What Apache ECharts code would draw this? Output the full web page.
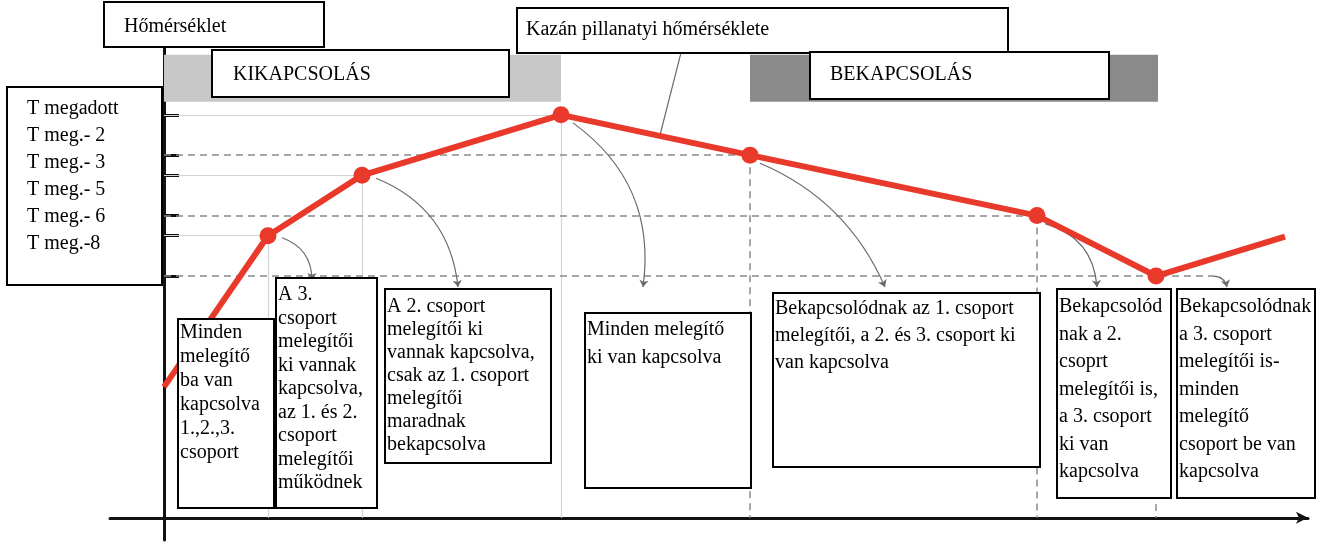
<!DOCTYPE html>
<html>
<head>
<meta charset="utf-8">
<script src="https://cdn.jsdelivr.net/npm/echarts@6/dist/echarts.min.js"></script>
<style>
  html, body { margin: 0; padding: 0; background: #fff; }
  #chart { width: 1322px; height: 542px; }
</style>
</head>
<body>
<div id="chart"></div>
<script>
// hőmérséklet-szintek (alapvonal = 0, T megadott = 20)
var levelNames = ['T megadott', 'T meg.- 2', 'T meg.- 3', 'T meg.- 5', 'T meg.- 6', 'T meg.-8'];
var levelValues = [20, 18, 17, 15, 14, 12];

// kazán pillanatnyi hőmérséklete (idő, hőmérséklet)
var timeX = [0, 10.4, 19.8, 39.7, 58.6, 87.3, 99.2, 112.1];
var tempY = [6.5, 14, 17, 20, 18, 15, 12, 13.95];

// állapotsávok
var offBand = [0, 39.7];
var onBand = [58.6, 99.4];

var FONT = '20px "Liberation Serif", "Times New Roman", serif';

var chart = echarts.init(document.getElementById('chart'));

// vetítő vonalak a pontokból a tengelyekig
var lightLines = [], dashLines = [];
for (var i = 1; i <= 6; i++) {
    var target = i <= 3 ? lightLines : dashLines;
    var hEnd = (i == 6) ? 104.9 : timeX[i];
    target.push({coords: [[0, tempY[i]], [hEnd, tempY[i]]]});
    target.push({coords: [[timeX[i], tempY[i]], [timeX[i], 0]]});
}

// nyilak a pontoktól a magyarázó dobozokig
var arrows = [
    {coords: [[11.8, 13.9], [14.8, 11.8]], lineStyle: {curveness: 0.35}},
    {coords: [[21.2, 16.85], [29.4, 11.45]], lineStyle: {curveness: 0.3}},
    {coords: [[40.9, 19.6], [47.9, 11.45]], lineStyle: {curveness: 0.3}},
    {coords: [[59.6, 17.6], [72.1, 11.45]], lineStyle: {curveness: 0.2}},
    {coords: [[88.1, 14.6], [93.3, 11.45]], lineStyle: {curveness: 0.35}},
    {coords: [[104.9, 12], [106.3, 11.45]], lineStyle: {curveness: 0.4}}
];

function box(x, y, w, h, lines, firstY, lh, tx) {
    var ch = [{
        type: 'rect', z: 100,
        shape: {x: x, y: y, width: w, height: h},
        style: {fill: '#fff', stroke: '#000', lineWidth: 2}
    }];
    for (var k = 0; k < lines.length; k++) {
        ch.push({
            type: 'text', z: 101,
            x: tx === undefined ? x + 2 : tx,
            y: firstY + k * lh,
            style: {text: lines[k], font: FONT, fill: '#000', verticalAlign: 'middle', textVerticalAlign: 'middle'}
        });
    }
    return {type: 'group', children: ch};
}

var seriesData = timeX.map(function (x, i) {
    var p = {value: [x, tempY[i]]};
    if (i == 0 || i == timeX.length - 1) p.symbol = 'none';
    return p;
});

var option = {
    animation: false,
    grid: {left: 110, right: 14, top: 44.3, bottom: 2, containLabel: false, outerBoundsMode: 'none'},
    xAxis: {
        type: 'value', min: -5.4, max: 114.4,
        splitLine: {show: false}, axisTick: {show: false}, axisLabel: {show: false},
        axisLine: {show: true, onZero: true, symbol: ['none', 'arrow'], symbolSize: [9, 12],
            lineStyle: {color: '#111', width: 3}}
    },
    yAxis: {
        type: 'value', min: -1.1, max: 23.5,
        splitLine: {show: false}, axisLabel: {show: false},
        axisLine: {show: true, onZero: true, lineStyle: {color: '#111', width: 3}},
        axisTick: {show: true, inside: true, length: 15, customValues: levelValues,
            lineStyle: {color: '#111', width: 3}}
    },
    series: [
        {
            type: 'line', data: [], silent: true,
            markArea: {
                silent: true,
                data: [
                    [{coord: [offBand[0], 20.65], itemStyle: {color: '#c8c8c8'}}, {coord: [offBand[1], 22.98]}],
                    [{coord: [onBand[0], 20.65], itemStyle: {color: '#8a8a8a'}}, {coord: [onBand[1], 22.98]}]
                ]
            }
        },
        {
            type: 'lines', coordinateSystem: 'cartesian2d', silent: true, z: 1,
            lineStyle: {color: '#d4d4d4', width: 1.2, opacity: 1},
            data: lightLines
        },
        {
            type: 'lines', coordinateSystem: 'cartesian2d', silent: true, z: 1,
            lineStyle: {color: '#8a8a8a', width: 1.5, type: [7, 5], opacity: 1},
            data: dashLines
        },
        {
            type: 'lines', coordinateSystem: 'cartesian2d', silent: true, z: 3,
            symbol: ['none', 'arrow'], symbolSize: 7,
            lineStyle: {color: '#6a6a6a', width: 1.2, opacity: 1},
            data: arrows
        },
        {
            type: 'lines', coordinateSystem: 'cartesian2d', silent: true, z: 3,
            lineStyle: {color: '#6a6a6a', width: 1.2, opacity: 1},
            data: [{coords: [[51.9, 23.47], [49.6, 19.0]]}]
        },
        {
            name: 'Kazán pillanatyi hőmérséklete',
            type: 'line', z: 5,
            data: seriesData,
            symbol: 'circle', symbolSize: 17,
            lineStyle: {color: '#e8392b', width: 6},
            itemStyle: {color: '#e8392b'}
        }
    ],
    graphic: [
        box(104, 2, 220, 45, ['Hőmérséklet'], 27, 0, 124),
        box(212, 50, 297, 47, ['KIKAPCSOLÁS'], 75, 0, 233),
        box(517, 8, 491, 45, ['Kazán pillanatyi hőmérséklete'], 30, 0, 526),
        box(810, 52, 299, 47, ['BEKAPCSOLÁS'], 75, 0, 830),
        box(7, 87, 155, 198, levelNames, 109, 27, 27),
        box(178, 319, 96, 189, ['Minden', 'melegítő', 'ba van', 'kapcsolva', '1.,2.,3.', 'csoport'], 333, 24),
        box(276, 278, 101, 230, ['A 3.', 'csoport', 'melegítői', 'ki vannak', 'kapcsolva,', 'az 1. és 2.', 'csoport', 'melegítői', 'működnek'], 295, 23.5),
        box(385, 289, 166, 174, ['A 2. csoport', 'melegítői ki', 'vannak kapcsolva,', 'csak az 1. csoport', 'melegítői', 'maradnak', 'bekapcsolva'], 307, 23),
        box(585, 313, 166, 175, ['Minden melegítő', 'ki van kapcsolva'], 330, 28),
        box(773, 293, 267, 174, ['Bekapcsolódnak az 1. csoport', 'melegítői, a 2. és 3. csoport ki', 'van kapcsolva'], 309, 27),
        box(1057, 289, 114, 209, ['Bekapcsolód', 'nak a 2.', 'csoprt', 'melegítői is,', 'a 3. csoport', 'ki van', 'kapcsolva'], 307, 27.5),
        box(1177, 289, 138, 209, ['Bekapcsolódnak', 'a 3. csoport', 'melegítői is-', 'minden', 'melegítő', 'csoport be van', 'kapcsolva'], 307, 27.5)
    ]
};

chart.setOption(option);
</script>
</body>
</html>
